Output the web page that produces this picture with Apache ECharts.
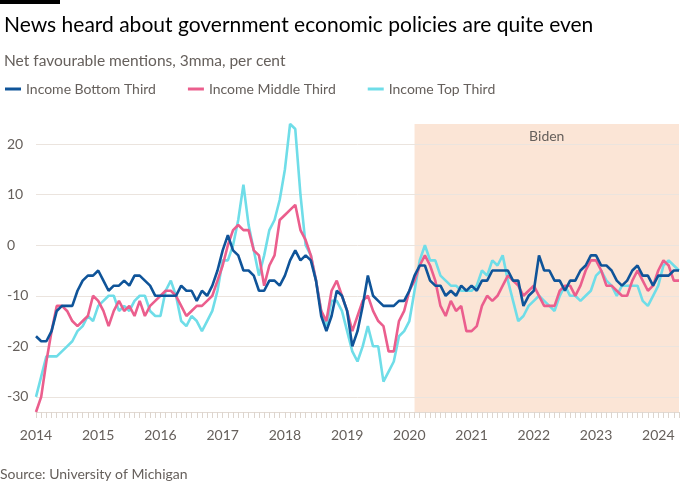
<!DOCTYPE html>
<html><head><meta charset="utf-8">
<script src="https://cdn.jsdelivr.net/npm/echarts@6/dist/echarts.min.js"></script>
<style>html,body{margin:0;padding:0;background:#fff}#c{width:700px;height:500px}</style>
</head><body><div id="c"></div>
<script>
// Monthly, Jan 2014 - May 2024
const startYear = 2014;
const bottomThird = [
 -18,-19,-19,-17,-13,-12,-12,-12,-9,-7,-6,-6,
 -5,-7,-9,-8,-8,-7,-8,-6,-6,-7,-8,-10,
 -10,-10,-10,-10,-8,-9,-9,-11,-9,-10,-8,-5,
 -1,2,-1,-2,-5,-5,-6,-9,-9,-7,-7,-8,
 -6,-3,-1,-3,-2,-3,-7,-14,-17,-14,-9,-10,
 -13,-20,-17,-12,-6,-10,-11,-12,-12,-12,-11,-11,
 -9,-6,-4,-4,-7,-8,-8,-10,-9,-10,-8,-9,
 -8,-9,-7,-7,-5,-5,-5,-5,-7,-7,-12,-10,
 -9,-2,-5,-5,-7,-7,-9,-7,-7,-5,-4,-2,
 -2,-4,-4,-5,-7,-8,-7,-5,-4,-6,-6,-8,
 -6,-6,-6,-5,-5];
const middleThird = [
 -33,-30,-23,-17,-12,-12,-13,-15,-16,-15,-14,-10,
 -11,-13,-16,-13,-11,-13,-12,-14,-11,-14,-12,-11,
 -10,-9,-9,-10,-12,-14,-13,-12,-12,-11,-10,-7,
 -4,0,3,4,3,3,-1,-2,-8,-4,-2,5,
 6,7,8,3,1,-2,-7,-13,-15,-9,-7,-10,
 -13,-17,-14,-11,-10,-13,-15,-16,-21,-21,-15,-13,
 -9,-7,-4,-2,-4,-7,-12,-14,-11,-13,-12,-17,
 -17,-16,-12,-10,-11,-10,-8,-6,-7,-8,-10,-9,
 -8,-10,-12,-12,-12,-9,-8,-8,-10,-8,-5,-3,
 -3,-5,-8,-8,-9,-10,-10,-7,-5,-7,-9,-8,
 -5,-3,-4,-7,-7];
const topThird = [
 -30,-26,-22,-22,-22,-21,-20,-19,-17,-16,-14,-15,
 -12,-11,-10,-10,-13,-12,-13,-11,-10,-10,-13,-14,
 -14,-9,-7,-10,-15,-16,-14,-15,-17,-15,-13,-9,
 -3,-3,0,5,12,4,-1,-6,-2,3,5,9,
 15,24,23,10,0,-2,-7,-13,-16,-11,-11,-13,
 -17,-21,-23,-20,-16,-20,-20,-27,-25,-23,-18,-17,
 -15,-9,-3,0,-3,-3,-6,-7,-8,-8,-9,-9,
 -9,-8,-5,-6,-3,-4,-2,-7,-11,-15,-14,-12,
 -11,-10,-11,-12,-13,-10,-8,-10,-10,-11,-10,-9,
 -6,-5,-7,-8,-10,-8,-8,-8,-8,-11,-12,-10,
 -8,-4,-3,-4,-5];
const yTicks = [-30,-20,-10,0,10,20];
const bidenStart = '2020-02';
const bidenEnd = '2024-05';
const seriesNames = ['Income Bottom Third','Income Middle Third','Income Top Third'];
const seriesColors = ['#0f5499','#eb5e8d','#6fdde8'];

const months = [];
for (let i = 0; i < bottomThird.length; i++) {
  const y = startYear + Math.floor(i / 12), m = (i % 12) + 1;
  months.push(y + '-' + (m < 10 ? '0' + m : m));
}

const FONT = 'Lato, "Noto Sans", sans-serif';
const GREY = '#66605c';
const chart = echarts.init(document.getElementById('c'), null, {renderer:'canvas'});
const lineSeries = (name, data, color) => ({
  name, type:'line', data, showSymbol:false, symbol:'none', z:5,
  lineStyle:{width:2.6, color}, itemStyle:{color}
});
chart.setOption({
  animation:false,
  backgroundColor:'#fff',
  textStyle:{fontFamily:FONT},
  title:[
    {text:'News heard about government economic policies are quite even', left:-1, top:10,
     textStyle:{fontSize:21, fontWeight:'normal', color:'#000', fontFamily:FONT}},
    {text:'Net favourable mentions, 3mma, per cent', left:-1, top:48,
     textStyle:{fontSize:15.5, fontWeight:'normal', color:GREY, fontFamily:FONT}}
  ],
  legend:{data:seriesNames, left:0, top:77, icon:'rect', itemWidth:16, itemHeight:3, itemGap:32,
    textStyle:{fontSize:14, color:GREY, fontFamily:FONT}},
  grid:{left:36, right:21, top:124, bottom:88},
  xAxis:{type:'category', data:months, boundaryGap:false,
    axisLine:{onZero:false, lineStyle:{color:'#e2dad3', width:1}},
    axisTick:{interval:0, length:6, lineStyle:{color:'#ddd5ce'}},
    axisLabel:{interval:(i)=> i % 12 === 0, formatter:(v)=> v.slice(0,4), color:GREY, fontSize:14, margin:16, fontFamily:FONT},
    splitLine:{show:false}},
  yAxis:{type:'value', min:-33, max:24, interval:1,
    axisLine:{show:false}, axisTick:{show:false}, splitLine:{show:false},
    axisLabel:{formatter:(v)=> yTicks.includes(v) ? String(v) : '', align:'left', margin:29, color:GREY, fontSize:14, fontFamily:FONT}},
  graphic:[
    {type:'rect', left:0, top:0, shape:{width:60, height:4}, style:{fill:'#000'}},
    {type:'text', left:0, top:467, style:{text:'Source: University of Michigan', fill:GREY, font:'14px ' + FONT}}
  ],
  series:[
    {name:'band', type:'line', data:[], z:1, silent:true,
     markArea:{silent:true, itemStyle:{color:'#fbe5d6'},
       label:{show:true, position:'insideTop', distance:5, color:GREY, fontSize:14, fontFamily:FONT},
       data:[[{name:'Biden', xAxis:bidenStart},{xAxis:bidenEnd}]]}},
    {name:'grid', type:'line', data:[], z:2, silent:true,
     markLine:{silent:true, symbol:'none', label:{show:false},
       lineStyle:{color:'#ebe4de', width:1, type:'solid'},
       data: yTicks.map(v => ({yAxis:v}))}},
    lineSeries(seriesNames[2], topThird, seriesColors[2]),
    lineSeries(seriesNames[1], middleThird, seriesColors[1]),
    lineSeries(seriesNames[0], bottomThird, seriesColors[0])
  ]
});
</script></body></html>
